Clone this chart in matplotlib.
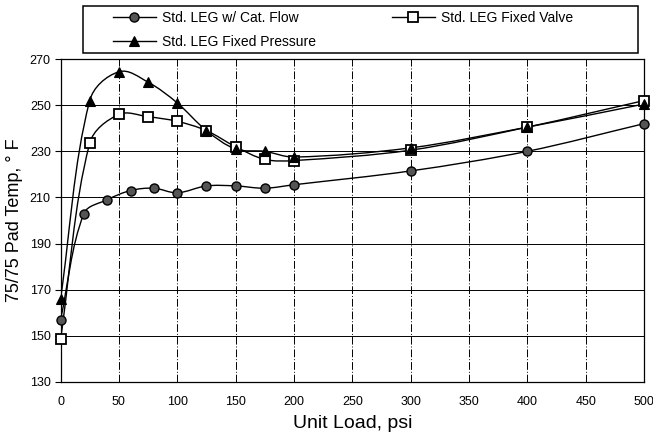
import numpy as np
import matplotlib
matplotlib.use("Agg")
import matplotlib.pyplot as plt
from matplotlib.path import Path
from matplotlib.patches import PathPatch, Rectangle
from matplotlib.lines import Line2D

plt.rcParams['font.family'] = ['Liberation Sans', 'DejaVu Sans']

# ---- data ----
cat_x = [0, 20, 40, 60, 80, 100, 125, 150, 175, 200, 300, 400, 500]
cat_y = [157, 203, 209, 213, 214, 212, 215, 215, 214, 215.5, 221.5, 230, 242]

valve_x = [0, 25, 50, 75, 100, 125, 150, 175, 200, 300, 400, 500]
valve_y = [148.5, 233.5, 246, 245, 243, 239, 232, 226.5, 226, 230.5, 240.5, 252]

press_x = [0, 25, 50, 75, 100, 125, 150, 175, 200, 300, 400, 500]
press_y = [166, 252, 264.5, 260, 251, 239, 231, 230, 227.5, 231.5, 240.5, 250.5]

labels = ["Std. LEG w/ Cat. Flow", "Std. LEG Fixed Valve", "Std. LEG Fixed Pressure"]
x_ticks = [0, 50, 100, 150, 200, 250, 300, 350, 400, 450, 500]
y_ticks = [130, 150, 170, 190, 210, 230, 250, 270]

XLIM = (0, 500)
YLIM = (130, 270)
AX_RECT = [0.0927, 0.134, 0.8935, 0.732]
FIG_W, FIG_H = 653, 441


def smooth_path(xs, ys, sx, sy, tension=1.0 / 3.0):
    """Smoothed line: cubic Bezier through the points, tangents computed
    in screen-proportional space, handle length tied to segment length."""
    P = np.column_stack([np.asarray(xs, float) * sx, np.asarray(ys, float) * sy])
    n = len(P)
    T = np.zeros_like(P)
    for i in range(n):
        a = P[i - 1] if i > 0 else P[i]
        b = P[i + 1] if i < n - 1 else P[i]
        d = b - a
        T[i] = d / np.hypot(*d)
    verts = [P[0]]
    codes = [Path.MOVETO]
    for i in range(n - 1):
        L = np.hypot(*(P[i + 1] - P[i]))
        c1 = P[i] + T[i] * L * tension
        c2 = P[i + 1] - T[i + 1] * L * tension
        verts += [c1, c2, P[i + 1]]
        codes += [Path.CURVE4] * 3
    V = np.array(verts)
    V[:, 0] /= sx
    V[:, 1] /= sy
    return Path(V, codes)


fig = plt.figure(figsize=(FIG_W / 100, FIG_H / 100), dpi=100)
ax = fig.add_axes(AX_RECT)

ax.set_xlim(*XLIM)
ax.set_ylim(*YLIM)
ax.set_xticks(x_ticks)
ax.set_yticks(y_ticks)

sx = AX_RECT[2] * FIG_W / (XLIM[1] - XLIM[0])
sy = AX_RECT[3] * FIG_H / (YLIM[1] - YLIM[0])

# grid
for yv in y_ticks:
    ax.axhline(yv, color='black', lw=0.7, zorder=1)
for xv in x_ticks:
    ax.axvline(xv, color='black', lw=0.7, ls=(0, (8, 2, 1, 2)), zorder=1)

series = [
    (cat_x, cat_y, dict(marker='o', markersize=6.5, markerfacecolor='#555555',
                        markeredgecolor='black', markeredgewidth=1.0)),
    (valve_x, valve_y, dict(marker='s', markersize=7, markerfacecolor='white',
                            markeredgecolor='black', markeredgewidth=1.3)),
    (press_x, press_y, dict(marker='^', markersize=7.5, markerfacecolor='black',
                            markeredgecolor='black', markeredgewidth=0.8)),
]

handles = []
for xs, ys, mk in series:
    patch = PathPatch(smooth_path(xs, ys, sx, sy), facecolor='none',
                      edgecolor='black', lw=1.0, zorder=3)
    ax.add_patch(patch)
    ax.plot(xs, ys, linestyle='none', zorder=4, clip_on=False, **mk)
    handles.append(Line2D([], [], color='black', lw=1.0, **mk))

for s in ax.spines.values():
    s.set_color('black')
    s.set_linewidth(0.9)

ax.tick_params(axis='y', direction='out', length=4, width=0.8, labelsize=9, pad=3)
ax.tick_params(axis='x', direction='out', length=0, labelsize=9, pad=10)

ax.set_xlabel("Unit Load, psi", fontsize=14, labelpad=5)
ax.set_ylabel("75/75 Pad Temp, \u00b0 F", fontsize=13, labelpad=5)

# legend frame drawn as a figure rectangle
fig.patches.append(Rectangle((83 / FIG_W, 1 - 53 / FIG_H), (638 - 83) / FIG_W, 47 / FIG_H,
                             transform=fig.transFigure, facecolor='white',
                             edgecolor='black', lw=1.1, zorder=0))

leg = fig.legend([handles[0], handles[2], handles[1]],
                 [labels[0], labels[2], labels[1]],
                 ncol=2, loc='upper left', bbox_to_anchor=(108 / FIG_W, 1 - 6 / FIG_H),
                 fontsize=10, frameon=False,
                 handlelength=3.1, handletextpad=0.45, columnspacing=5.45,
                 labelspacing=0.72, borderpad=0.35, borderaxespad=0.0)

fig.savefig("out.png", dpi=100)
